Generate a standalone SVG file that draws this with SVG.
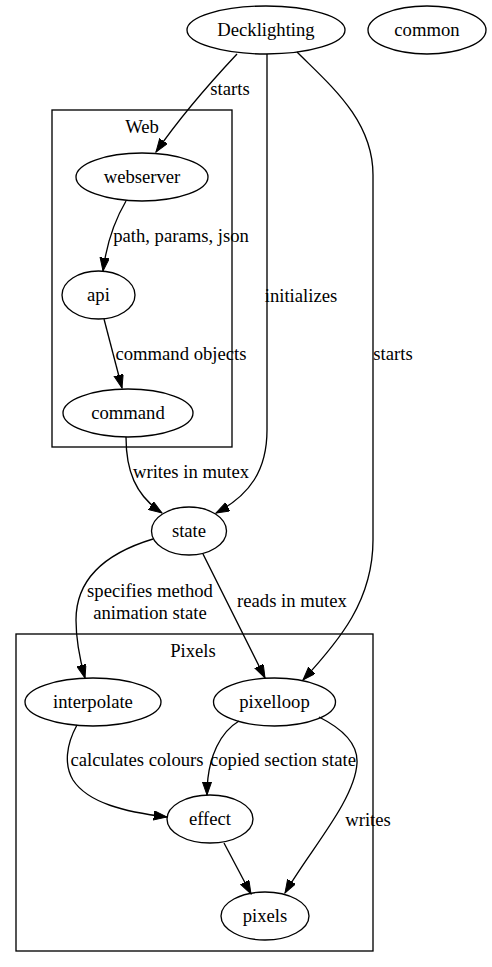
<svg xmlns="http://www.w3.org/2000/svg" width="492" height="967" viewBox="0 0 492 967">
<style>
text{font-family:"Liberation Serif","Times New Roman",serif;font-size:18.67px;text-anchor:middle;fill:#000}
.n ellipse{fill:none;stroke:#000;stroke-width:1.33}
.cl rect{fill:none;stroke:#000;stroke-width:1.33}
.e path{fill:none;stroke:#000;stroke-width:1.33;marker-end:url(#ah)}
</style>
<defs>
<marker id="ah" markerUnits="userSpaceOnUse" markerWidth="14" markerHeight="10" refX="13.3" refY="4.67" orient="auto">
<path d="M0,0 L13.3,4.67 L0,9.33 z" fill="#000" stroke="#000" stroke-width="1"/>
</marker>
</defs>
<rect width="492" height="967" fill="#fff"/>
<g id="cluster_web" class="cl"><rect x="52" y="110" width="180" height="337"/><text x="142" y="133">Web</text></g>
<g id="cluster_pixels" class="cl"><rect x="16" y="634" width="357" height="317"/><text x="193" y="657">Pixels</text></g>
<g id="edges" class="e">
<path d="M237,54 C222,70 185,110 156,152"/>
<path d="M267,54 L267,430 C267,470 250,495 216,513"/>
<path d="M297,52 C330,85 373,120 373,175 L373,540 C373,600 340,640 303,680"/>
<path d="M126,201 C116,218 107,240 103,271"/>
<path d="M104,319 L122,388"/>
<path d="M126,437 C126,470 135,495 162,513"/>
<path d="M153,539 C110,552 76,575 76,620 C76,640 80,660 85,678"/>
<path d="M203,554 L265,678"/>
<path d="M77,725 C66,745 64,765 73,780 C88,803 125,812 167,817"/>
<path d="M239,721 C222,731 207,755 207,795"/>
<path d="M319,717 C345,730 358,745 357,763 C355,800 310,850 285,893"/>
<path d="M224,843 L251,894"/>
</g>
<g id="edge_labels">
<text x="230" y="95">starts</text>
<text x="301" y="302">initializes</text>
<text x="393" y="360">starts</text>
<text x="181" y="242">path, params, json</text>
<text x="181" y="360">command objects</text>
<text x="191" y="478">writes in mutex</text>
<text x="150" y="597">specifies method</text>
<text x="150" y="619">animation state</text>
<text x="292" y="607">reads in mutex</text>
<text x="137" y="766">calculates colours</text>
<text x="283" y="766">copied section state</text>
<text x="368" y="826">writes</text>
</g>
<g id="Decklighting" class="n"><ellipse cx="266" cy="30" rx="79" ry="24"/><text x="266" y="36">Decklighting</text></g>
<g id="common" class="n"><ellipse cx="427" cy="30" rx="59" ry="24"/><text x="427" y="36">common</text></g>
<g id="webserver" class="n"><ellipse cx="142" cy="177" rx="66" ry="24"/><text x="142" y="183">webserver</text></g>
<g id="api" class="n"><ellipse cx="98.5" cy="295" rx="36.5" ry="24"/><text x="98.5" y="301">api</text></g>
<g id="command" class="n"><ellipse cx="128" cy="413" rx="65" ry="24"/><text x="128" y="419">command</text></g>
<g id="state" class="n"><ellipse cx="189" cy="531" rx="37.5" ry="24"/><text x="189" y="537">state</text></g>
<g id="interpolate" class="n"><ellipse cx="93" cy="702" rx="68" ry="24"/><text x="93" y="708">interpolate</text></g>
<g id="pixelloop" class="n"><ellipse cx="274.5" cy="702" rx="61" ry="24"/><text x="274.5" y="708">pixelloop</text></g>
<g id="effect" class="n"><ellipse cx="210" cy="819" rx="43" ry="24"/><text x="210" y="825">effect</text></g>
<g id="pixels" class="n"><ellipse cx="265" cy="916" rx="44" ry="24"/><text x="265" y="922">pixels</text></g>
</svg>
